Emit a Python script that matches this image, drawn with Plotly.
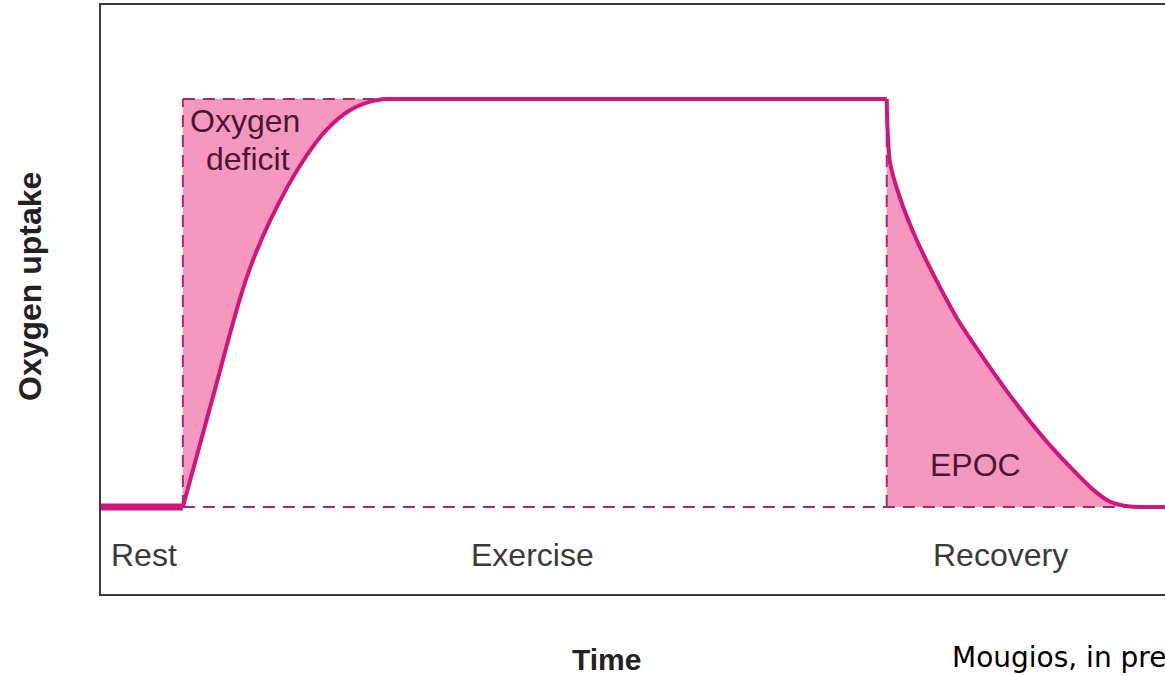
import plotly.graph_objects as go

# time axis (arbitrary units) and oxygen uptake values
rest_t = [0.0, 1.0]
rest_vo2 = [0.5, 0.5]

onset_t = [1.0, 1.36, 1.78, 2.07, 2.47, 2.76, 3.04, 3.29, 3.47]
onset_vo2 = [0.5, 1.12, 1.82, 2.15, 2.49, 2.67, 2.78, 2.83, 2.845]

steady_t = [3.47, 9.6]
steady_vo2 = [2.845, 2.845]

recovery_t = [9.6, 9.61, 9.64, 9.76, 9.97, 10.21, 10.49, 10.82, 11.14, 11.51, 11.84, 12.12, 12.33, 12.57, 12.8, 13.0]
recovery_vo2 = [2.845, 2.67, 2.48, 2.28, 2.03, 1.80, 1.56, 1.33, 1.12, 0.90, 0.73, 0.60, 0.53, 0.503, 0.5, 0.5]

exercise_start = 1.0
exercise_end = 9.6
rest_level = 0.5
peak_level = 2.845

line_col = 'rgb(208,22,122)'
fill_col = 'rgb(245,152,192)'
dash_col = 'rgb(160,45,105)'

fig = go.Figure()

# oxygen deficit area
fig.add_trace(go.Scatter(x=[exercise_start, onset_t[-1]], y=[peak_level, peak_level],
                         mode='lines', line=dict(width=0), showlegend=False, hoverinfo='skip'))
fig.add_trace(go.Scatter(x=onset_t, y=onset_vo2, mode='lines', line=dict(width=0, shape='spline'),
                         fill='tonexty', fillcolor=fill_col, showlegend=False, hoverinfo='skip'))

# EPOC area
fig.add_trace(go.Scatter(x=[exercise_end, recovery_t[-1]], y=[rest_level, rest_level],
                         mode='lines', line=dict(width=0), showlegend=False, hoverinfo='skip'))
fig.add_trace(go.Scatter(x=recovery_t, y=recovery_vo2, mode='lines',
                         line=dict(width=0, shape='spline', smoothing=0.7),
                         fill='tonexty', fillcolor=fill_col, showlegend=False, hoverinfo='skip'))

# dashed guides
dash_x = [exercise_start, exercise_start, None, exercise_start, onset_t[-1], None,
          exercise_end, exercise_end, None, exercise_start, recovery_t[-1]]
dash_y = [rest_level, peak_level, None, peak_level, peak_level, None,
          rest_level, peak_level, None, rest_level, rest_level]
fig.add_trace(go.Scatter(x=dash_x, y=dash_y, mode='lines',
                         line=dict(color=dash_col, width=2, dash='12px,8px'), showlegend=False))

# oxygen uptake curve
fig.add_trace(go.Scatter(x=rest_t, y=rest_vo2, mode='lines', line=dict(color=line_col, width=7), showlegend=False))
fig.add_trace(go.Scatter(x=onset_t, y=onset_vo2, mode='lines',
                         line=dict(color=line_col, width=4, shape='spline'), showlegend=False))
fig.add_trace(go.Scatter(x=steady_t, y=steady_vo2, mode='lines', line=dict(color=line_col, width=4), showlegend=False))
fig.add_trace(go.Scatter(x=recovery_t, y=recovery_vo2, mode='lines',
                         line=dict(color=line_col, width=4, shape='spline', smoothing=0.7), showlegend=False))

txt = dict(family='Liberation Sans, Arial', size=32, color='#3a3a3a')
inner = dict(family='Liberation Sans, Arial', size=32, color='#4a1632')

annotations = [
    dict(x=1.76, y=2.72, text='Oxygen', font=inner),
    dict(x=1.79, y=2.50, text='deficit', font=inner),
    dict(x=10.68, y=0.74, text='EPOC', font=inner),
    dict(x=0.52, y=0.225, text='Rest', font=txt),
    dict(x=5.27, y=0.225, text='Exercise', font=txt),
    dict(x=10.99, y=0.225, text='Recovery', font=txt),
]
for a in annotations:
    a.update(xref='x', yref='y', showarrow=False)

annotations += [
    dict(x=606, y=659, text='<b>Time</b>', xanchor='center',
         font=dict(family='Liberation Sans, Arial', size=30, color='#222')),
    dict(x=950, y=657, text='Mougios, in press', xanchor='left',
         font=dict(family='DejaVu Sans, Verdana', size=28, color='#000')),
    dict(x=30, y=287, text='<b>Oxygen uptake</b>', xanchor='center', textangle=-90,
         font=dict(family='Liberation Sans, Arial', size=32, color='#222')),
]
# outer labels given in pixels, converted to paper coordinates
for a in annotations[6:]:
    a['x'] = (a['x'] - 101) / 1064
    a['y'] = (594 - a['y']) / 589
    a.update(xref='paper', yref='paper', yanchor='middle', showarrow=False)

fig.update_layout(
    width=1165, height=675,
    margin=dict(l=101, r=0, t=5, b=81),
    plot_bgcolor='white', paper_bgcolor='white',
    annotations=annotations,
    xaxis=dict(range=[0, 13], showgrid=False, zeroline=False, showticklabels=False,
               showline=True, mirror=True, linecolor='#3a3a3a', linewidth=2, ticks=''),
    yaxis=dict(range=[0, 589 / 174], showgrid=False, zeroline=False, showticklabels=False,
               showline=True, linecolor='#3a3a3a', linewidth=2, ticks=''),
)

fig.write_html("out.html", config={'displayModeBar': False},
               post_script="document.body.style.margin='0';")
